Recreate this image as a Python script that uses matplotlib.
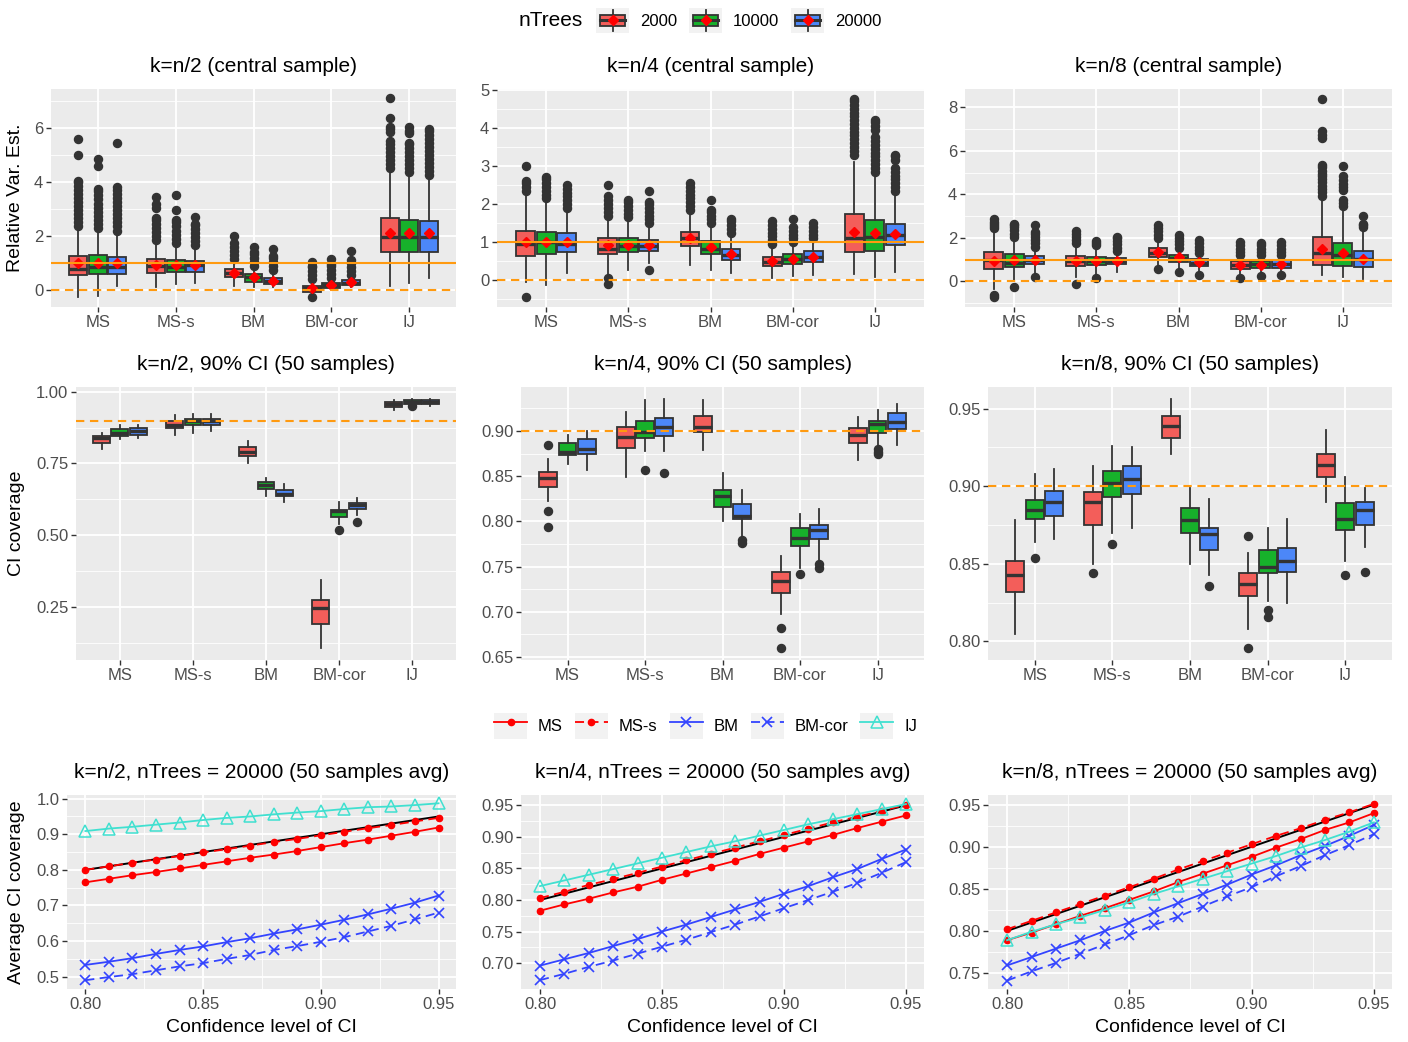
import matplotlib
matplotlib.use("Agg")
import matplotlib.pyplot as plt
from matplotlib.legend_handler import HandlerBase, HandlerLine2D
from matplotlib.patches import Rectangle, Patch
from matplotlib.lines import Line2D
from matplotlib.ticker import FormatStrFormatter

plt.rcParams['font.family'] = ['Liberation Sans', 'DejaVu Sans']

methods = ['MS', 'MS-s', 'BM', 'BM-cor', 'IJ']
ntrees = ['2000', '10000', '20000']

# ---- relative variance estimates (lo whisker, q1, median, q3, hi whisker) ----
rv_n2_box = [
    [(-0.25, 0.54, 0.79, 1.26, 2.30), (-0.22, 0.59, 0.86, 1.30, 2.25), (0.15, 0.59, 0.86, 1.23, 2.15)],
    [(0.10, 0.64, 0.90, 1.14, 1.78), (0.22, 0.68, 0.86, 1.11, 1.70), (0.27, 0.68, 0.93, 1.09, 1.60)],
    [(0.15, 0.47, 0.64, 0.79, 1.10), (0.10, 0.31, 0.47, 0.59, 0.85), (0.12, 0.22, 0.35, 0.43, 0.70)],
    [(-0.12, -0.06, 0.06, 0.15, 0.35), (0.02, 0.07, 0.18, 0.25, 0.42), (0.10, 0.17, 0.27, 0.37, 0.50)],
    [(0.15, 1.40, 1.95, 2.65, 4.45), (0.25, 1.42, 1.95, 2.60, 4.30), (0.43, 1.42, 1.97, 2.57, 4.20)],
]
rv_n2_mean = [[0.99, 1.00, 0.99], [0.93, 0.93, 0.93], [0.63, 0.47, 0.33], [0.07, 0.19, 0.28], [2.10, 2.10, 2.10]]
rv_n2_out = [
    [[2.35, 2.5, 2.65, 2.8, 2.95, 3.1, 3.25, 3.4, 3.55, 3.7, 3.85, 4.0, 4.05, 5.0, 5.6],
     [2.3, 2.45, 2.6, 2.75, 2.9, 3.05, 3.2, 3.35, 3.5, 3.65, 3.75, 4.6, 4.85],
     [2.2, 2.35, 2.5, 2.65, 2.8, 2.95, 3.1, 3.25, 3.4, 3.55, 3.7, 3.8, 5.45]],
    [[1.85, 2.0, 2.15, 2.3, 2.45, 2.6, 2.65, 3.05, 3.2, 3.45],
     [1.75, 1.9, 2.05, 2.2, 2.35, 2.5, 2.6, 2.95, 3.5],
     [1.65, 1.8, 1.95, 2.1, 2.25, 2.4, 2.45, 2.7]],
    [[1.15, 1.3, 1.45, 1.6, 1.75, 2.0],
     [0.9, 1.05, 1.2, 1.35, 1.4, 1.6],
     [0.75, 0.9, 1.05, 1.2, 1.25, 1.5]],
    [[-0.27, 0.4, 0.55, 0.7, 0.85, 0.9, 1.05],
     [0.45, 0.6, 0.75, 0.9, 0.95, 1.15],
     [0.55, 0.7, 0.85, 1.0, 1.1, 1.45]],
    [[4.5, 4.65, 4.8, 4.95, 5.1, 5.25, 5.4, 5.5, 5.85, 5.95, 6.05, 6.35, 7.1],
     [4.35, 4.5, 4.65, 4.8, 4.95, 5.1, 5.25, 5.4, 5.45, 5.8, 5.9, 6.05],
     [4.25, 4.4, 4.55, 4.7, 4.85, 5.0, 5.15, 5.3, 5.45, 5.6, 5.75, 5.9, 5.95]],
]

rv_n4_box = [
    [(-0.05, 0.63, 0.95, 1.30, 2.30), (-0.13, 0.70, 1.00, 1.27, 2.10), (0.19, 0.75, 0.95, 1.23, 1.85)],
    [(0.15, 0.70, 0.83, 1.10, 1.65), (0.28, 0.74, 0.90, 1.11, 1.60), (0.45, 0.76, 0.90, 1.07, 1.45)],
    [(0.39, 0.89, 1.10, 1.27, 1.80), (0.26, 0.70, 0.83, 1.03, 1.45), (0.19, 0.53, 0.66, 0.82, 1.20)],
    [(0.07, 0.37, 0.48, 0.61, 0.90), (0.12, 0.42, 0.56, 0.70, 0.95), (0.15, 0.47, 0.61, 0.76, 1.05)],
    [(0.17, 0.75, 1.10, 1.74, 3.10), (0.10, 0.76, 1.14, 1.58, 2.80), (0.23, 0.93, 1.18, 1.47, 2.30)],
]
rv_n4_mean = [[1.00, 1.00, 1.00], [0.92, 0.93, 0.93], [1.12, 0.88, 0.68], [0.50, 0.57, 0.62], [1.28, 1.23, 1.22]]
rv_n4_out = [
    [[-0.45, 2.35, 2.45, 2.55, 2.6, 3.0],
     [2.15, 2.25, 2.35, 2.45, 2.55, 2.65, 2.7],
     [1.9, 2.0, 2.1, 2.2, 2.3, 2.4, 2.5]],
    [[-0.1, 0.05, 1.7, 1.8, 1.9, 2.0, 2.1, 2.2, 2.5],
     [1.65, 1.75, 1.85, 1.95, 2.05, 2.1],
     [0.28, 1.5, 1.6, 1.7, 1.8, 1.9, 2.0, 2.05, 2.35]],
    [[1.85, 1.95, 2.05, 2.15, 2.25, 2.35, 2.45, 2.55],
     [1.5, 1.6, 1.7, 1.8, 1.85, 2.1],
     [1.25, 1.35, 1.45, 1.55, 1.6]],
    [[0.95, 1.05, 1.15, 1.25, 1.35, 1.45, 1.55],
     [1.0, 1.1, 1.2, 1.3, 1.4, 1.6],
     [1.1, 1.2, 1.3, 1.4, 1.5]],
    [[3.3, 3.4, 3.5, 3.6, 3.7, 3.8, 3.9, 4.0, 4.1, 4.2, 4.3, 4.4, 4.5, 4.6, 4.7, 4.75],
     [2.85, 2.95, 3.05, 3.15, 3.25, 3.35, 3.45, 3.55, 3.65, 3.75, 3.95, 4.05, 4.15, 4.2],
     [2.35, 2.45, 2.55, 2.65, 2.75, 2.85, 2.95, 3.15, 3.25, 3.3]],
]

rv_n8_box = [
    [(-0.35, 0.58, 0.97, 1.35, 2.40), (0.00, 0.66, 0.85, 1.25, 2.00), (0.35, 0.78, 1.00, 1.15, 1.55)],
    [(0.20, 0.69, 0.94, 1.15, 1.70), (0.35, 0.74, 0.94, 1.12, 1.60), (0.45, 0.78, 0.94, 1.09, 1.35)],
    [(0.70, 1.12, 1.32, 1.55, 1.95), (0.60, 0.89, 1.09, 1.23, 1.50), (0.45, 0.69, 0.86, 1.02, 1.25)],
    [(0.30, 0.57, 0.74, 0.92, 1.15), (0.40, 0.62, 0.78, 0.94, 1.15), (0.45, 0.63, 0.82, 0.97, 1.15)],
    [(0.30, 0.77, 1.32, 2.02, 3.90), (0.18, 0.69, 1.20, 1.78, 3.40), (0.10, 0.66, 1.05, 1.38, 2.40)],
]
rv_n8_mean = [[0.95, 1.00, 0.98], [0.93, 0.94, 0.94], [1.37, 1.10, 0.87], [0.75, 0.77, 0.80], [1.50, 1.30, 1.05]]
rv_n8_out = [
    [[-0.7, -0.62, 2.45, 2.55, 2.65, 2.75, 2.85],
     [-0.28, 2.05, 2.2, 2.35, 2.5, 2.6, 2.65],
     [0.2, 1.6, 1.75, 1.9, 2.05, 2.2, 2.25, 2.6]],
    [[-0.1, 1.75, 1.9, 2.05, 2.2, 2.3],
     [0.15, 1.65, 1.75, 1.85],
     [1.4, 1.55, 1.7, 1.85, 2.0, 2.05]],
    [[0.55, 2.0, 2.15, 2.3, 2.45, 2.6],
     [0.45, 1.55, 1.7, 1.85, 2.0, 2.15],
     [0.3, 1.3, 1.45, 1.6, 1.75, 1.9]],
    [[0.15, 1.2, 1.35, 1.5, 1.65, 1.8],
     [0.25, 1.2, 1.35, 1.5, 1.65, 1.75],
     [0.28, 1.2, 1.35, 1.5, 1.65, 1.8]],
    [[3.95, 4.1, 4.25, 4.4, 4.55, 4.7, 4.85, 4.95, 5.1, 5.25, 5.35, 6.6, 6.75, 6.9, 8.4],
     [3.45, 3.6, 3.75, 4.2, 4.35, 4.5, 4.65, 4.85, 5.3],
     [2.5, 2.6, 2.65, 3.0]],
]

# ---- 90% CI coverage over 50 samples ----
ci_n2_box = [
    [(0.800, 0.823, 0.840, 0.847, 0.855), (0.837, 0.845, 0.858, 0.870, 0.886), (0.840, 0.851, 0.863, 0.874, 0.884)],
    [(0.851, 0.874, 0.884, 0.898, 0.918), (0.858, 0.884, 0.900, 0.907, 0.922), (0.863, 0.886, 0.898, 0.907, 0.924)],
    [(0.750, 0.777, 0.790, 0.808, 0.830), (0.637, 0.660, 0.674, 0.684, 0.700), (0.616, 0.635, 0.645, 0.659, 0.677)],
    [(0.107, 0.190, 0.244, 0.273, 0.343), (0.540, 0.563, 0.583, 0.587, 0.614), (0.570, 0.590, 0.605, 0.613, 0.628)],
    [(0.938, 0.948, 0.956, 0.963, 0.970), (0.953, 0.956, 0.965, 0.970, 0.974), (0.952, 0.956, 0.965, 0.970, 0.974)],
]
ci_n2_out = [[[], [], []], [[], [], []], [[], [], []], [[], [0.517], [0.547]], [[], [0.949], []]]

ci_n4_box = [
    [(0.822, 0.838, 0.848, 0.855, 0.869), (0.864, 0.873, 0.877, 0.887, 0.896), (0.857, 0.875, 0.880, 0.891, 0.900)],
    [(0.849, 0.881, 0.893, 0.904, 0.921), (0.878, 0.892, 0.899, 0.911, 0.934), (0.878, 0.894, 0.904, 0.914, 0.935)],
    [(0.879, 0.899, 0.904, 0.916, 0.934), (0.800, 0.816, 0.828, 0.835, 0.853), (0.782, 0.803, 0.806, 0.819, 0.835)],
    [(0.698, 0.721, 0.734, 0.744, 0.762), (0.748, 0.773, 0.782, 0.793, 0.808), (0.755, 0.780, 0.791, 0.796, 0.814)],
    [(0.868, 0.887, 0.896, 0.903, 0.915), (0.885, 0.898, 0.908, 0.911, 0.923), (0.885, 0.902, 0.910, 0.920, 0.930)],
]
ci_n4_out = [[[0.884, 0.812, 0.794], [], []], [[], [0.857], [0.854]], [[], [], [0.779, 0.776]],
             [[0.682, 0.660], [0.742], [0.753, 0.748]], [[], [0.880, 0.877, 0.874], []]]

ci_n8_box = [
    [(0.805, 0.832, 0.843, 0.852, 0.878), (0.864, 0.879, 0.885, 0.891, 0.908), (0.866, 0.881, 0.890, 0.897, 0.911)],
    [(0.850, 0.875, 0.890, 0.896, 0.913), (0.870, 0.893, 0.902, 0.910, 0.926), (0.873, 0.895, 0.905, 0.913, 0.925)],
    [(0.921, 0.931, 0.939, 0.945, 0.956), (0.850, 0.870, 0.878, 0.886, 0.899), (0.843, 0.859, 0.869, 0.873, 0.892)],
    [(0.808, 0.829, 0.837, 0.844, 0.857), (0.826, 0.844, 0.848, 0.859, 0.873), (0.825, 0.845, 0.852, 0.860, 0.879)],
    [(0.890, 0.906, 0.914, 0.921, 0.936), (0.852, 0.872, 0.879, 0.889, 0.906), (0.861, 0.875, 0.885, 0.890, 0.899)],
]
ci_n8_out = [[[], [0.854], []], [[0.844], [0.863], []], [[], [], [0.836]],
             [[0.868, 0.796], [0.820, 0.816], []], [[], [0.843], [0.845]]]

# ---- average CI coverage vs confidence level (nTrees = 20000) ----
conf_level = [0.80, 0.81, 0.82, 0.83, 0.84, 0.85, 0.86, 0.87, 0.88, 0.89, 0.90, 0.91, 0.92, 0.93, 0.94, 0.95]

avg_n2 = {
    'MS':     [0.765, 0.775, 0.785, 0.794, 0.804, 0.814, 0.824, 0.834, 0.843, 0.853, 0.864, 0.875, 0.885, 0.896, 0.907, 0.919],
    'MS-s':   [0.800, 0.810, 0.820, 0.829, 0.839, 0.849, 0.858, 0.868, 0.878, 0.887, 0.897, 0.907, 0.917, 0.926, 0.936, 0.946],
    'BM':     [0.533, 0.542, 0.552, 0.564, 0.575, 0.585, 0.597, 0.608, 0.621, 0.633, 0.646, 0.660, 0.675, 0.691, 0.708, 0.728],
    'BM-cor': [0.490, 0.499, 0.507, 0.518, 0.529, 0.538, 0.550, 0.561, 0.575, 0.586, 0.598, 0.611, 0.627, 0.643, 0.661, 0.680],
    'IJ':     [0.909, 0.916, 0.921, 0.927, 0.933, 0.940, 0.946, 0.950, 0.956, 0.961, 0.965, 0.971, 0.976, 0.978, 0.982, 0.987],
}
avg_n4 = {
    'MS':     [0.783, 0.793, 0.802, 0.812, 0.821, 0.832, 0.842, 0.852, 0.862, 0.873, 0.883, 0.893, 0.903, 0.914, 0.924, 0.934],
    'MS-s':   [0.803, 0.813, 0.824, 0.833, 0.843, 0.853, 0.863, 0.873, 0.883, 0.893, 0.903, 0.913, 0.923, 0.932, 0.941, 0.951],
    'BM':     [0.696, 0.706, 0.716, 0.727, 0.738, 0.750, 0.761, 0.773, 0.785, 0.797, 0.810, 0.822, 0.836, 0.849, 0.865, 0.880],
    'BM-cor': [0.673, 0.683, 0.694, 0.704, 0.715, 0.726, 0.737, 0.749, 0.761, 0.774, 0.787, 0.800, 0.813, 0.827, 0.843, 0.860],
    'IJ':     [0.822, 0.831, 0.840, 0.849, 0.858, 0.867, 0.876, 0.885, 0.893, 0.902, 0.911, 0.920, 0.928, 0.936, 0.944, 0.952],
}
avg_n8 = {
    'MS':     [0.789, 0.798, 0.808, 0.818, 0.827, 0.837, 0.847, 0.858, 0.868, 0.878, 0.888, 0.899, 0.909, 0.920, 0.929, 0.940],
    'MS-s':   [0.802, 0.812, 0.822, 0.832, 0.842, 0.852, 0.862, 0.873, 0.883, 0.893, 0.903, 0.913, 0.922, 0.932, 0.941, 0.951],
    'BM':     [0.759, 0.769, 0.779, 0.789, 0.800, 0.810, 0.822, 0.833, 0.844, 0.855, 0.867, 0.878, 0.890, 0.901, 0.913, 0.926],
    'BM-cor': [0.741, 0.752, 0.762, 0.773, 0.784, 0.795, 0.807, 0.817, 0.829, 0.841, 0.852, 0.865, 0.877, 0.890, 0.902, 0.915],
    'IJ':     [0.789, 0.799, 0.808, 0.816, 0.825, 0.834, 0.844, 0.853, 0.862, 0.871, 0.880, 0.889, 0.899, 0.908, 0.918, 0.929],
}

# ---- styling ----
FILLS = ['#F35E5A', '#17B12B', '#4C87F8']
EDGE = '#333333'
ORANGE = '#FF9A10'
PANEL = '#EBEBEB'
KEYBG = '#F2F2F2'
DASH = (0, (4, 2.7))
line_style = {
    'MS':     dict(color='#FF0000', ls='-', marker='o', ms=4.5, mfc='#FF0000', mec='#FF0000'),
    'MS-s':   dict(color='#FF0000', ls=(0, (5, 3)), marker='o', ms=4.5, mfc='#FF0000', mec='#FF0000'),
    'BM':     dict(color='#3344FF', ls='-', marker='x', ms=7, mew=1.2),
    'BM-cor': dict(color='#3344FF', ls=(0, (5, 3)), marker='x', ms=7, mew=1.2),
    'IJ':     dict(color='#40E0D0', ls='-', marker='^', ms=8, mfc='none', mec='#40E0D0', mew=1.1),
}

W, H = 1408, 1042
fig = plt.figure(figsize=(W / 100, H / 100), dpi=100)


def panel(l, t, r, b):
    return fig.add_axes([l / W, 1 - b / H, (r - l) / W, (b - t) / H])


def theme(ax, title, rect, yticks, ylim, yminor, fmt=None):
    ax.set_facecolor(PANEL)
    for s in ax.spines.values():
        s.set_visible(False)
    ax.set_yticks(yticks)
    ax.set_yticks(yminor, minor=True)
    ax.set_ylim(ylim)
    if fmt:
        ax.yaxis.set_major_formatter(FormatStrFormatter(fmt))
    ax.grid(which='major', color='white', lw=1.3)
    ax.grid(which='minor', color='white', lw=0.6)
    ax.set_axisbelow(True)
    ax.tick_params(which='major', length=3.5, width=1, color=EDGE, labelcolor='#4D4D4D',
                   labelsize=12, pad=2)
    ax.tick_params(which='minor', length=0)
    h = rect[3] - rect[1]
    ax.text(0.5, 1 + 22 / h, title, transform=ax.transAxes, ha='center', va='center', fontsize=15)


def draw_boxes(ax, box, out, mean=None):
    stats, pos = [], []
    for i in range(5):
        for j in range(3):
            lo, q1, med, q3, hi = box[i][j]
            stats.append(dict(whislo=lo, q1=q1, med=med, q3=q3, whishi=hi, fliers=out[i][j]))
            pos.append(i + 1 + (j - 1) * 0.25)
    res = ax.bxp(stats, positions=pos, widths=0.23, patch_artist=True, showcaps=False,
                 boxprops=dict(edgecolor=EDGE, linewidth=1.3),
                 medianprops=dict(color=EDGE, linewidth=2.4, solid_capstyle='butt'),
                 whiskerprops=dict(color=EDGE, linewidth=1.3),
                 flierprops=dict(marker='o', markerfacecolor=EDGE, markeredgecolor=EDGE,
                                 markersize=5.8))
    for k, b in enumerate(res['boxes']):
        b.set_facecolor(FILLS[k % 3])
    if mean is not None:
        ax.plot(pos, [m for row in mean for m in row], ls='none', marker='D', color='#FF0000',
                ms=5.5, zorder=5)
    ax.set_xlim(0.4, 5.6)
    ax.set_xticks(range(1, 6), methods)


top_rects = [(51, 89, 456, 307), (497, 89, 924, 307), (965, 89, 1392, 307)]
mid_rects = [(76, 387, 456, 660), (521, 387, 924, 660), (988, 387, 1392, 660)]
bot_rects = [(67, 795, 456, 989), (521, 795, 924, 989), (988, 795, 1392, 989)]

# top row
top_specs = [
    ('k=n/2 (central sample)', rv_n2_box, rv_n2_out, rv_n2_mean, [0, 2, 4, 6], (-0.63, 7.44), [1, 3, 5, 7]),
    ('k=n/4 (central sample)', rv_n4_box, rv_n4_out, rv_n4_mean, [0, 1, 2, 3, 4, 5], (-0.70, 5.02),
     [-0.5, 0.5, 1.5, 2.5, 3.5, 4.5]),
    ('k=n/8 (central sample)', rv_n8_box, rv_n8_out, rv_n8_mean, [0, 2, 4, 6, 8], (-1.18, 8.85), [-1, 1, 3, 5, 7]),
]
for rect, (title, box, out, mean, yt, yl, ym) in zip(top_rects, top_specs):
    ax = panel(*rect)
    draw_boxes(ax, box, out, mean)
    ax.axhline(1, color=ORANGE, lw=1.5, zorder=6)
    ax.axhline(0, color=ORANGE, lw=1.5, ls=DASH, zorder=6)
    theme(ax, title, rect, yt, yl, ym)

# middle row
mid_specs = [
    ('k=n/2, 90% CI (50 samples)', ci_n2_box, ci_n2_out, [0.25, 0.50, 0.75, 1.00], (0.064, 1.017),
     [0.125, 0.375, 0.625, 0.875], '%.2f'),
    ('k=n/4, 90% CI (50 samples)', ci_n4_box, ci_n4_out, [0.65, 0.70, 0.75, 0.80, 0.85, 0.90], (0.6467, 0.9486),
     [0.675, 0.725, 0.775, 0.825, 0.875, 0.925], '%.2f'),
    ('k=n/8, 90% CI (50 samples)', ci_n8_box, ci_n8_out, [0.80, 0.85, 0.90, 0.95], (0.788, 0.964),
     [0.825, 0.875, 0.925], '%.2f'),
]
for rect, (title, box, out, yt, yl, ym, fmt) in zip(mid_rects, mid_specs):
    ax = panel(*rect)
    draw_boxes(ax, box, out)
    ax.axhline(0.9, color=ORANGE, lw=1.5, ls=DASH, zorder=6)
    theme(ax, title, rect, yt, yl, ym, fmt)

# bottom row
bot_specs = [
    ('k=n/2, nTrees = 20000 (50 samples avg)', avg_n2, [0.5, 0.6, 0.7, 0.8, 0.9, 1.0], (0.4654, 1.0103),
     [0.55, 0.65, 0.75, 0.85, 0.95], '%.1f'),
    ('k=n/4, nTrees = 20000 (50 samples avg)', avg_n4, [0.70, 0.75, 0.80, 0.85, 0.90, 0.95], (0.6589, 0.9664),
     [0.725, 0.775, 0.825, 0.875, 0.925], '%.2f'),
    ('k=n/8, nTrees = 20000 (50 samples avg)', avg_n8, [0.75, 0.80, 0.85, 0.90, 0.95], (0.731, 0.9615),
     [0.775, 0.825, 0.875, 0.925], '%.2f'),
]
for rect, (title, avg, yt, yl, ym, fmt) in zip(bot_rects, bot_specs):
    ax = panel(*rect)
    ax.plot([conf_level[0], conf_level[-1]], [conf_level[0], conf_level[-1]], color='black', lw=1.4, zorder=2)
    for m in methods:
        ax.plot(conf_level, avg[m], lw=1.3, zorder=3, **line_style[m])
    theme(ax, title, rect, yt, yl, ym, fmt)
    ax.set_xlim(0.7922, 0.9574)
    ax.set_xticks([0.80, 0.85, 0.90, 0.95])
    ax.set_xticks([0.825, 0.875, 0.925], minor=True)
    ax.xaxis.set_major_formatter(FormatStrFormatter('%.2f'))
    ax.text(0.5, -39 / (rect[3] - rect[1]), 'Confidence level of CI', transform=ax.transAxes,
            ha='center', va='center', fontsize=14)

# y axis titles
fig.text(16 / W, 1 - 198 / H, 'Relative Var. Est.', rotation=90, ha='center', va='center', fontsize=14)
fig.text(17 / W, 1 - 523 / H, 'CI coverage', rotation=90, ha='center', va='center', fontsize=14)
fig.text(17 / W, 1 - 892 / H, 'Average CI coverage', rotation=90, ha='center', va='center', fontsize=14)


# legends
class BoxKey(HandlerBase):
    def create_artists(self, legend, orig_handle, xdescent, ydescent, width, height, fontsize, trans):
        x0, y0 = -xdescent, -ydescent
        cx, cy = x0 + width / 2, y0 + height * 0.5
        bg = Rectangle((x0, y0), width, height, facecolor=KEYBG, edgecolor='none', transform=trans)
        wh = Line2D([cx, cx], [y0 + 0.08 * height, y0 + 0.92 * height], color=EDGE, lw=1.3, transform=trans)
        bx = Rectangle((x0 + 0.12 * width, y0 + 0.28 * height), 0.76 * width, 0.44 * height,
                       facecolor=orig_handle.get_facecolor(), edgecolor=EDGE, lw=1.3, transform=trans)
        md = Line2D([x0 + 0.12 * width, x0 + 0.88 * width], [cy, cy], color=EDGE, lw=2.2, transform=trans)
        dm = Line2D([cx], [cy], ls='none', marker='D', color='#FF0000', ms=5, transform=trans)
        return [bg, wh, bx, md, dm]


class LineKey(HandlerLine2D):
    def create_artists(self, legend, orig_handle, xdescent, ydescent, width, height, fontsize, trans):
        bg = Rectangle((-xdescent, -ydescent), width, height, facecolor=KEYBG, edgecolor='none',
                       transform=trans)
        arts = super().create_artists(legend, orig_handle, xdescent, ydescent, width, height, fontsize, trans)
        return [bg] + list(arts)


leg_kw = dict(frameon=False, borderpad=0, borderaxespad=0, handlelength=1.98, handleheight=1.98,
              handletextpad=0.66, columnspacing=0.72, fontsize=12)
box_handles = [Patch(facecolor=c) for c in FILLS]
fig.legend(box_handles, ntrees, loc='center left', bbox_to_anchor=(596 / W, 1 - 20.5 / H), ncol=3,
           handler_map={Patch: BoxKey()}, **leg_kw)
fig.text(551 / W, 1 - 20.5 / H, 'nTrees', ha='center', va='center', fontsize=15)

line_handles = [Line2D([], [], lw=1.3, **line_style[m]) for m in methods]
fig.legend(line_handles, methods, loc='center left', bbox_to_anchor=(494 / W, 1 - 726 / H), ncol=5,
           handler_map={Line2D: LineKey()}, **leg_kw)

fig.savefig('out.png', dpi=100)
